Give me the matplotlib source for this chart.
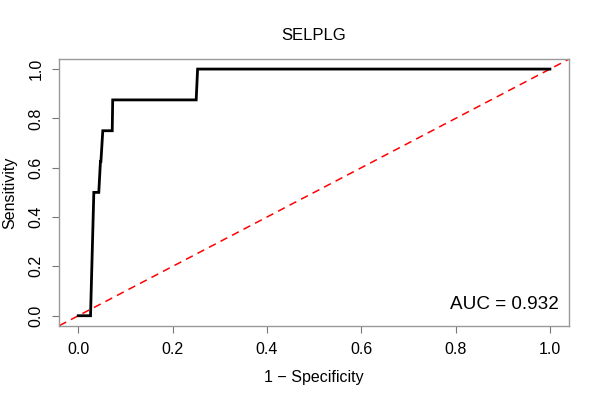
import matplotlib
matplotlib.use("Agg")
import matplotlib.pyplot as plt

fpr = [0.0, 0.026, 0.033, 0.0435, 0.047, 0.048, 0.052, 0.072, 0.073, 0.250, 0.253, 1.0]
tpr = [0.0, 0.0, 0.5, 0.5, 0.625, 0.625, 0.75, 0.75, 0.875, 0.875, 1.0, 1.0]
ticks = [0.0, 0.2, 0.4, 0.6, 0.8, 1.0]
tick_labels = ["0.0", "0.2", "0.4", "0.6", "0.8", "1.0"]
title = "SELPLG"
auc_text = "AUC = 0.932"

plt.rcParams['font.family'] = ['Liberation Sans', 'DejaVu Sans']

fig = plt.figure(figsize=(6, 4), dpi=100)
ax = fig.add_axes([0.099, 0.186, 0.849, 0.666])
ax.set_xlim(-0.04, 1.04)
ax.set_ylim(-0.04, 1.04)

ax.plot([-0.04, 1.04], [-0.04, 1.04], color='#ff0000', lw=1.1,
        linestyle=(0, (5, 3.5)), zorder=2)
ax.plot(fpr, tpr, color='black', lw=2.0, solid_joinstyle='miter', zorder=3)

for s in ax.spines.values():
    s.set_color('#999999')
    s.set_linewidth(1.0)

ax.set_xticks(ticks)
ax.set_xticklabels(tick_labels)
ax.set_yticks(ticks)
ax.set_yticklabels(tick_labels, rotation=90, va='center')
ax.tick_params(axis='both', length=5, width=0.8, color='#777777',
               labelsize=11.5, pad=6.5, labelcolor='black')

ax.set_xlabel("1 \u2212 Specificity", fontsize=11.5, labelpad=10)
ax.set_ylabel("Sensitivity", fontsize=11.5, labelpad=8)
ax.set_title(title, fontsize=12, pad=14)

ax.text(1.02, 0.045, auc_text, fontsize=13.6, ha='right', va='center',
        transform=ax.transData)

fig.savefig("out.png", dpi=100)
